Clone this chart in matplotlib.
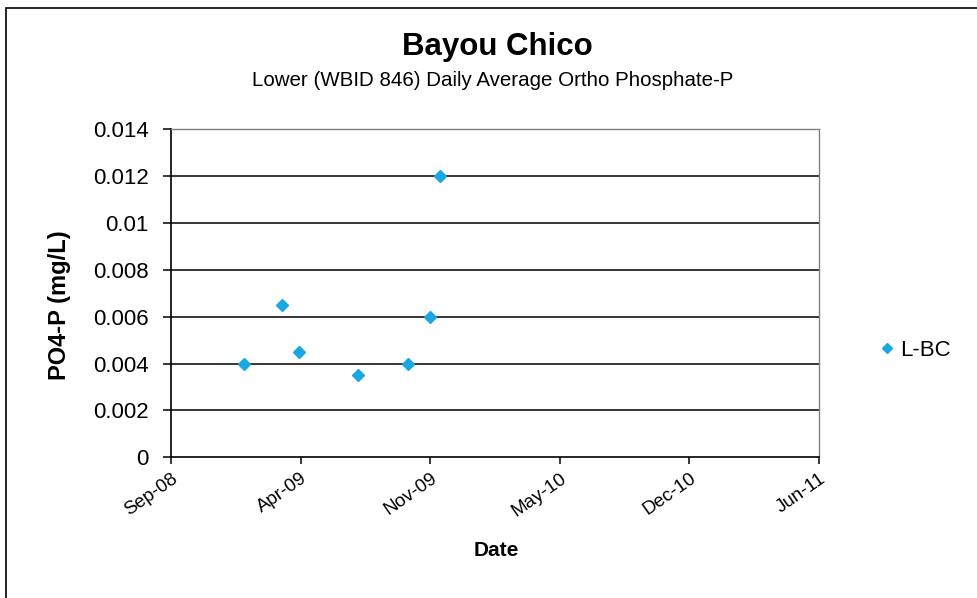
#!/usr/bin/env python3
"""Bayou Chico lower segment: daily average ortho phosphate-P scatter."""

import datetime as dt

import matplotlib
matplotlib.use('Agg')
import matplotlib.dates as mdates
import matplotlib.pyplot as plt
from matplotlib.patches import Rectangle

plt.rcParams['font.family'] = ['Liberation Sans', 'DejaVu Sans']

# values
sample_dates = ['2009-01-20', '2009-03-19', '2009-04-14', '2009-07-15',
                '2009-09-30', '2009-11-03', '2009-11-18']
po4_mgl = [0.004, 0.0065, 0.0045, 0.0035, 0.004, 0.006, 0.012]
series_name = 'L-BC'

x_start = dt.date(2008, 9, 29)
x_step_days = 200
x_ticks = [x_start + dt.timedelta(days=x_step_days * i) for i in range(6)]
y_ticks = [0, 0.002, 0.004, 0.006, 0.008, 0.01, 0.012, 0.014]
y_tick_labels = ['0', '0.002', '0.004', '0.006', '0.008', '0.01', '0.012', '0.014']


def main():
    dates = [dt.datetime.strptime(d, '%Y-%m-%d').date() for d in sample_dates]

    W, H = 978, 598
    fig = plt.figure(figsize=(W / 100, H / 100), dpi=100)
    ax = fig.add_axes([171 / W, 1 - 457.3 / H, 648 / W, 328 / H])

    # chart area border (runs off the right and bottom edge in the original)
    fig.patches.append(Rectangle((6 / W, -0.05), 1.1, 1 - 8 / H + 0.05,
                                 transform=fig.transFigure, fill=False,
                                 edgecolor='black', linewidth=1.2))

    for y in y_ticks[1:-1]:
        ax.axhline(y, color='black', linewidth=1.1, zorder=1)

    ax.plot(dates, po4_mgl, linestyle='none', marker='D', markersize=6.5,
            color='#1ba8e2', markeredgecolor='#1ba8e2', label=series_name,
            zorder=3)

    ax.set_xlim(x_ticks[0], x_ticks[-1])
    ax.set_ylim(0, 0.014)
    ax.set_xticks(x_ticks)
    ax.xaxis.set_major_formatter(mdates.DateFormatter('%b-%y'))
    ax.set_yticks(y_ticks)
    ax.set_yticklabels(y_tick_labels)

    ax.tick_params(axis='y', direction='out', length=6, width=1.1,
                   labelsize=16, pad=10)
    ax.tick_params(axis='x', direction='out', length=5, width=1.1,
                   labelsize=13.5, pad=4)
    for lbl in ax.get_xticklabels():
        lbl.set_rotation(35)
        lbl.set_ha('right')
        lbl.set_rotation_mode('anchor')

    for side in ('left', 'bottom'):
        ax.spines[side].set_color('black')
        ax.spines[side].set_linewidth(1.2)
    for side in ('top', 'right'):
        ax.spines[side].set_color('#808080')
        ax.spines[side].set_linewidth(1.0)

    fig.text(496 / W, 1 - 550 / H, 'Date', ha='center', va='center',
             fontsize=15, fontweight='bold')
    fig.text(60 / W, 1 - 305 / H, 'PO4-P (mg/L)', ha='center', va='center',
             rotation=90, fontsize=17, fontweight='bold')

    fig.text(497 / W, 1 - 47 / H, 'Bayou Chico', ha='center', va='center',
             fontsize=22.5, fontweight='bold')
    fig.text(493 / W, 1 - 80 / H,
             'Lower (WBID 846) Daily Average Ortho Phosphate-P',
             ha='center', va='center', fontsize=14.8)

    ax.legend(loc='center left', bbox_to_anchor=(880 / W, 1 - 350 / H),
              bbox_transform=fig.transFigure, frameon=False,
              fontsize=16, handlelength=0.6, handletextpad=0.3,
              markerscale=0.8, borderpad=0, borderaxespad=0)

    fig.savefig('out.png', dpi=100)
    plt.close(fig)


if __name__ == '__main__':
    main()
